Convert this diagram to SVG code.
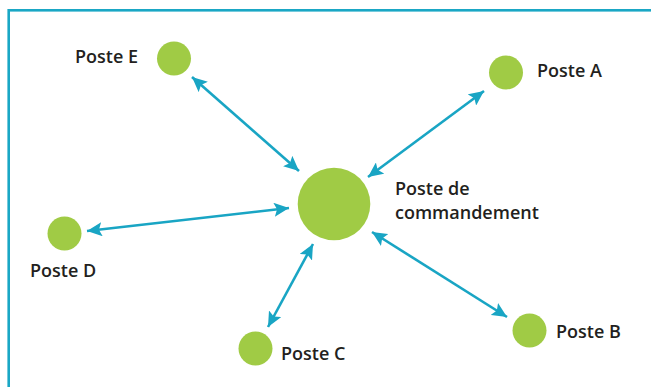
<svg xmlns="http://www.w3.org/2000/svg" width="651" height="387" viewBox="0 0 651 387">
<style>
.node{fill:#a0cb45}
.lbl{font-family:"Open Sans","Noto Sans",sans-serif;font-weight:600;font-size:18px;fill:#231f20}
.conn{stroke:#19a5c4;stroke-width:2.6;fill:none;marker-start:url(#ah);marker-end:url(#ah)}
</style>
<defs>
<marker id="ah" markerUnits="userSpaceOnUse" markerWidth="16" markerHeight="14" viewBox="0 0 16 14" refX="15" refY="7" orient="auto-start-reverse">
<path d="M0,0 L15,7 L0,14 L3,7 Z" fill="#19a5c4"/>
</marker>
</defs>
<rect x="8.7" y="10.3" width="700" height="450" fill="none" stroke="#1aa7c5" stroke-width="2.6"/>
<g id="connectors">
<line class="conn" x1="192" y1="77" x2="299" y2="171"/>
<line class="conn" x1="484" y1="91" x2="368" y2="177"/>
<line class="conn" x1="87" y1="231" x2="289" y2="208"/>
<line class="conn" x1="268" y1="327" x2="313" y2="244"/>
<line class="conn" x1="507" y1="317" x2="372" y2="232"/>
</g>
<g id="center"><circle class="node" cx="334" cy="204" r="36.3"/><text class="lbl" x="395" y="195">Poste de</text><text class="lbl" x="395" y="219">commandement</text></g>
<g id="posteE"><circle class="node" cx="174" cy="58.5" r="17"/><text class="lbl" x="75" y="63">Poste E</text></g>
<g id="posteA"><circle class="node" cx="506" cy="72.5" r="17"/><text class="lbl" x="537" y="77">Poste A</text></g>
<g id="posteD"><circle class="node" cx="64.5" cy="233.5" r="17"/><text class="lbl" x="30" y="277">Poste D</text></g>
<g id="posteC"><circle class="node" cx="255.5" cy="348.5" r="17"/><text class="lbl" x="281" y="360">Poste C</text></g>
<g id="posteB"><circle class="node" cx="529.5" cy="330.5" r="17"/><text class="lbl" x="556" y="338">Poste B</text></g>
</svg>
